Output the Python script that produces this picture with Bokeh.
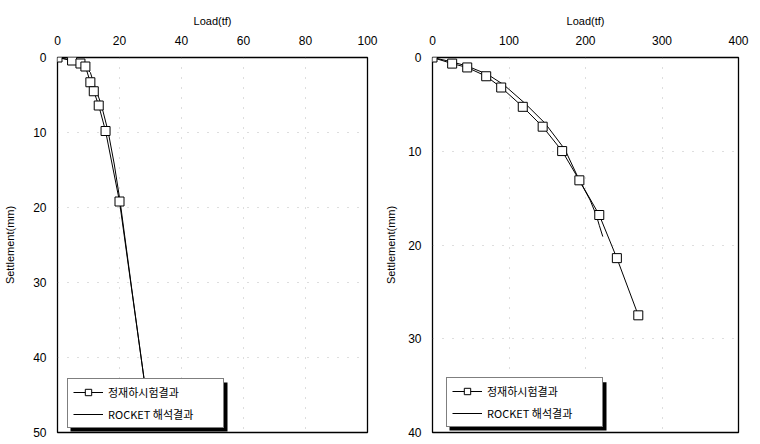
from bokeh.plotting import figure
from bokeh.layouts import row
from bokeh.models import Range1d, Legend, LegendItem, BoxAnnotation, FixedTicker
from bokeh.embed import file_html
from bokeh.resources import INLINE

# ---------------- data ----------------
# left pile
left_test_load = [0, 4.7, 7.4, 9.0, 10.6, 11.7, 13.3, 15.5, 20.0, 28.1]
left_test_settle = [0, 0.4, 0.8, 1.2, 3.3, 4.5, 6.4, 9.8, 19.2, 43.4]
left_rocket_load = [0, 4.0, 8.5, 10.6, 11.6, 12.6, 14.2, 16.3, 18.3, 20.2, 24.0, 28.1]
left_rocket_settle = [0, 0.3, 1.0, 2.0, 3.3, 4.5, 6.4, 9.8, 14.2, 19.2, 31.0, 43.4]

# right pile
right_test_load = [0, 25.7, 45.4, 70.2, 89.8, 118, 144, 169.5, 192, 218, 241, 269]
right_test_settle = [0, 0.65, 1.06, 2.0, 3.2, 5.26, 7.38, 9.98, 13.1, 16.8, 21.4, 27.5]
right_rocket_load = [0, 22, 45, 72, 93, 121, 147, 173, 192, 206, 214, 218, 222.6]
right_rocket_settle = [0, 0.4, 0.9, 1.8, 2.9, 4.9, 7.0, 9.8, 13.1, 15.2, 16.8, 17.9, 19.1]

left_x_ticks = [0, 20, 40, 60, 80, 100]
left_y_ticks = [0, 10, 20, 30, 40, 50]
right_x_ticks = [0, 100, 200, 300, 400]
right_y_ticks = [0, 10, 20, 30, 40]

x_title = "Load(tf)"
y_title = "Settlement(mm)"
test_label = "정재하시험결과"
rocket_label = "ROCKET 해석결과"

FONT = "Liberation Sans"
KFONT = "Noto Sans CJK KR"


def panel(x_end, y_end, xticks, yticks, width, height, mbl, mbr, mbt, mbb,
          tl, ts, rl, rs, leg_x, leg_y, y_title_standoff):
    p = figure(width=width, height=height, output_backend="svg",
               toolbar_location=None, x_axis_location="above",
               x_range=Range1d(0, x_end), y_range=Range1d(y_end, 0),
               min_border_left=mbl, min_border_right=mbr,
               min_border_top=mbt, min_border_bottom=mbb)
    p.background_fill_color = "white"
    p.border_fill_color = "white"
    p.outline_line_color = "black"
    p.outline_line_width = 1.3

    p.xaxis.ticker = FixedTicker(ticks=xticks)
    p.yaxis.ticker = FixedTicker(ticks=yticks)
    for ax in (p.xaxis[0], p.yaxis[0]):
        ax.axis_line_color = None
        ax.major_tick_out = 0
        ax.major_tick_in = 0
        ax.minor_tick_out = 0
        ax.minor_tick_in = 0
        ax.major_label_text_font = FONT
        ax.major_label_text_font_size = "12px"
        ax.major_label_text_color = "black"
        ax.axis_label_text_font = FONT
        ax.axis_label_text_font_size = "11px"
        ax.axis_label_text_font_style = "normal"
        ax.axis_label_text_color = "black"
    p.xaxis.axis_label = x_title
    p.yaxis.axis_label = y_title
    p.xaxis.major_label_standoff = 13
    p.xaxis.axis_label_standoff = 6
    p.yaxis.major_label_standoff = 11
    p.yaxis.axis_label_standoff = y_title_standoff

    p.xgrid.grid_line_color = "#888888"
    p.ygrid.grid_line_color = "#888888"
    p.xgrid.grid_line_dash = "1 9"
    p.ygrid.grid_line_dash = "1 9"
    p.xgrid.grid_line_alpha = 0.55
    p.ygrid.grid_line_alpha = 0.55

    r_line = p.line(rl, rs, line_color="black", line_width=1)
    t_line = p.line(tl, ts, line_color="black", line_width=1)
    t_pts = p.scatter(tl, ts, marker="square", size=9, fill_color="white",
                      line_color="black", line_width=1)

    # legend geometry (screen px relative to frame bottom-left)
    pad, gw, lst, lw, lh, sp = 5, 30, 5, 110, 16, 6
    W = 2 * pad + gw + lst + lw + 2
    H = 2 * pad + 2 * lh + sp + 1
    fw = width - mbl - mbr
    fh = height - mbt - mbb
    off = 3

    def xd(px):
        return px / fw * x_end

    def yd(py):
        return y_end - py / fh * y_end

    shadow = BoxAnnotation(left=xd(leg_x + off), right=xd(leg_x + W + off),
                           bottom=yd(leg_y - off), top=yd(leg_y + H - off),
                           fill_color="black", fill_alpha=1.0,
                           line_color=None)
    p.add_layout(shadow)

    legend = Legend(items=[LegendItem(label=test_label, renderers=[t_line, t_pts]),
                           LegendItem(label=rocket_label, renderers=[r_line])],
                    location=(leg_x, leg_y), padding=pad, spacing=sp,
                    glyph_width=gw, glyph_height=lh, label_height=lh,
                    label_width=lw, label_standoff=lst, margin=0,
                    border_line_color="black", border_line_width=1,
                    background_fill_color="white", background_fill_alpha=1.0,
                    label_text_font=KFONT, label_text_font_size="11px",
                    label_text_color="black")
    p.add_layout(legend, "center")
    return p


left = panel(100, 50, left_x_ticks, left_y_ticks, 379, 442, 57, 12, 57, 10,
             left_test_load, left_test_settle, left_rocket_load, left_rocket_settle,
             10, 4, 14)
right = panel(400, 40, right_x_ticks, right_y_ticks, 379, 442, 53, 20, 52, 10,
              right_test_load, right_test_settle, right_rocket_load, right_rocket_settle,
              14, 5, 8)

layout = row(left, right)
open("out.html", "w").write(file_html(layout, INLINE))
